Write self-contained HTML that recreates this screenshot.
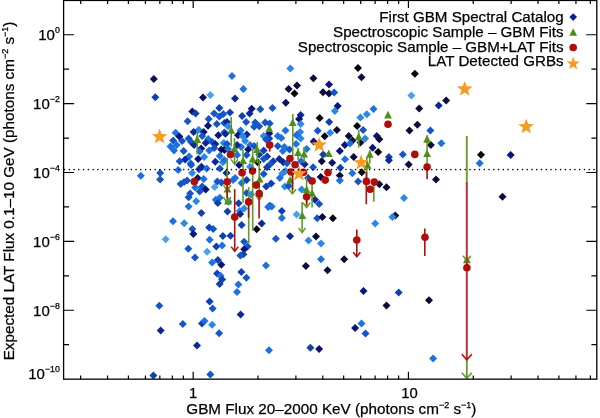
<!DOCTYPE html>
<html><head><meta charset="utf-8"><title>GBM vs LAT flux</title>
<style>html,body{margin:0;padding:0;background:#fff}svg{display:block}text{fill:#000;stroke:#000;stroke-width:0.25px}</style>
</head><body>
<svg width="600" height="418" viewBox="0 0 600 418" font-family="Liberation Sans, Arimo, Helvetica, Arial, sans-serif">
<rect width="600" height="418" fill="#fff"/>
<g>
<path d="M153.8,75.0l4.0,4.0l-4.0,4.0l-4.0,-4.0z" fill="#0a1060"/>
<path d="M155.3,93.3l4.0,4.0l-4.0,4.0l-4.0,-4.0z" fill="#1040b0"/>
<path d="M203.0,93.6l4.0,4.0l-4.0,4.0l-4.0,-4.0z" fill="#0a1060"/>
<path d="M210.4,90.9l4.0,4.0l-4.0,4.0l-4.0,-4.0z" fill="#4aa0f2"/>
<path d="M232.0,72.1l4.0,4.0l-4.0,4.0l-4.0,-4.0z" fill="#1c70e0"/>
<path d="M290.3,64.5l4.0,4.0l-4.0,4.0l-4.0,-4.0z" fill="#2a88e8"/>
<path d="M243.4,85.1l4.0,4.0l-4.0,4.0l-4.0,-4.0z" fill="#1c70e0"/>
<path d="M235.0,94.4l4.0,4.0l-4.0,4.0l-4.0,-4.0z" fill="#0a2898"/>
<path d="M313.4,74.2l4.0,4.0l-4.0,4.0l-4.0,-4.0z" fill="#0a0a3c"/>
<path d="M288.6,84.9l4.0,4.0l-4.0,4.0l-4.0,-4.0z" fill="#0a0a3c"/>
<path d="M297.0,81.6l4.0,4.0l-4.0,4.0l-4.0,-4.0z" fill="#0a0a3c"/>
<path d="M294.5,89.6l4.0,4.0l-4.0,4.0l-4.0,-4.0z" fill="#050510"/>
<path d="M285.8,98.7l4.0,4.0l-4.0,4.0l-4.0,-4.0z" fill="#0a1060"/>
<path d="M323.0,88.3l4.0,4.0l-4.0,4.0l-4.0,-4.0z" fill="#0a0a3c"/>
<path d="M329.0,80.4l4.0,4.0l-4.0,4.0l-4.0,-4.0z" fill="#0a1478"/>
<path d="M329.0,89.5l4.0,4.0l-4.0,4.0l-4.0,-4.0z" fill="#0a0a3c"/>
<path d="M251.7,104.7l4.0,4.0l-4.0,4.0l-4.0,-4.0z" fill="#0a1478"/>
<path d="M260.3,105.2l4.0,4.0l-4.0,4.0l-4.0,-4.0z" fill="#1555c8"/>
<path d="M272.5,104.0l4.0,4.0l-4.0,4.0l-4.0,-4.0z" fill="#1555c8"/>
<path d="M358.0,64.0l4.0,4.0l-4.0,4.0l-4.0,-4.0z" fill="#050510"/>
<path d="M361.5,73.2l4.0,4.0l-4.0,4.0l-4.0,-4.0z" fill="#0a0a3c"/>
<path d="M414.9,69.8l4.0,4.0l-4.0,4.0l-4.0,-4.0z" fill="#050510"/>
<path d="M411.4,91.6l4.0,4.0l-4.0,4.0l-4.0,-4.0z" fill="#4aa0f2"/>
<path d="M334.2,88.4l4.0,4.0l-4.0,4.0l-4.0,-4.0z" fill="#1555c8"/>
<path d="M337.6,102.0l4.0,4.0l-4.0,4.0l-4.0,-4.0z" fill="#0a1478"/>
<path d="M334.9,107.0l4.0,4.0l-4.0,4.0l-4.0,-4.0z" fill="#2a88e8"/>
<path d="M373.5,105.0l4.0,4.0l-4.0,4.0l-4.0,-4.0z" fill="#1c70e0"/>
<path d="M419.2,104.5l4.0,4.0l-4.0,4.0l-4.0,-4.0z" fill="#0a0a3c"/>
<path d="M446.2,96.6l4.0,4.0l-4.0,4.0l-4.0,-4.0z" fill="#0a0a3c"/>
<path d="M438.7,101.4l4.0,4.0l-4.0,4.0l-4.0,-4.0z" fill="#0a2898"/>
<path d="M140.8,171.7l4.0,4.0l-4.0,4.0l-4.0,-4.0z" fill="#1c70e0"/>
<path d="M160.2,169.1l4.0,4.0l-4.0,4.0l-4.0,-4.0z" fill="#1555c8"/>
<path d="M160.1,175.5l4.0,4.0l-4.0,4.0l-4.0,-4.0z" fill="#1555c8"/>
<path d="M192.3,107.6l4.0,4.0l-4.0,4.0l-4.0,-4.0z" fill="#0a1478"/>
<path d="M195.7,109.6l4.0,4.0l-4.0,4.0l-4.0,-4.0z" fill="#1040b0"/>
<path d="M219.3,104.1l4.0,4.0l-4.0,4.0l-4.0,-4.0z" fill="#1040b0"/>
<path d="M187.6,117.3l4.0,4.0l-4.0,4.0l-4.0,-4.0z" fill="#1555c8"/>
<path d="M208.7,115.1l4.0,4.0l-4.0,4.0l-4.0,-4.0z" fill="#1555c8"/>
<path d="M214.2,109.6l4.0,4.0l-4.0,4.0l-4.0,-4.0z" fill="#1555c8"/>
<path d="M219.3,112.6l4.0,4.0l-4.0,4.0l-4.0,-4.0z" fill="#1555c8"/>
<path d="M223.3,110.1l4.0,4.0l-4.0,4.0l-4.0,-4.0z" fill="#1555c8"/>
<path d="M216.8,120.1l4.0,4.0l-4.0,4.0l-4.0,-4.0z" fill="#1555c8"/>
<path d="M208.0,121.7l4.0,4.0l-4.0,4.0l-4.0,-4.0z" fill="#0a1478"/>
<path d="M198.7,125.7l4.0,4.0l-4.0,4.0l-4.0,-4.0z" fill="#2a88e8"/>
<path d="M193.6,128.0l4.0,4.0l-4.0,4.0l-4.0,-4.0z" fill="#0a2898"/>
<path d="M203.7,128.0l4.0,4.0l-4.0,4.0l-4.0,-4.0z" fill="#0a1478"/>
<path d="M175.6,128.8l4.0,4.0l-4.0,4.0l-4.0,-4.0z" fill="#1c70e0"/>
<path d="M179.3,132.5l4.0,4.0l-4.0,4.0l-4.0,-4.0z" fill="#0a1478"/>
<path d="M224.3,128.6l4.0,4.0l-4.0,4.0l-4.0,-4.0z" fill="#1555c8"/>
<path d="M218.3,131.3l4.0,4.0l-4.0,4.0l-4.0,-4.0z" fill="#0a1478"/>
<path d="M224.3,119.1l4.0,4.0l-4.0,4.0l-4.0,-4.0z" fill="#1555c8"/>
<path d="M173.2,136.6l4.0,4.0l-4.0,4.0l-4.0,-4.0z" fill="#1555c8"/>
<path d="M182.1,137.1l4.0,4.0l-4.0,4.0l-4.0,-4.0z" fill="#1555c8"/>
<path d="M176.6,141.1l4.0,4.0l-4.0,4.0l-4.0,-4.0z" fill="#1c70e0"/>
<path d="M170.5,142.6l4.0,4.0l-4.0,4.0l-4.0,-4.0z" fill="#1c70e0"/>
<path d="M174.0,146.6l4.0,4.0l-4.0,4.0l-4.0,-4.0z" fill="#1c70e0"/>
<path d="M183.6,147.1l4.0,4.0l-4.0,4.0l-4.0,-4.0z" fill="#1555c8"/>
<path d="M188.6,134.5l4.0,4.0l-4.0,4.0l-4.0,-4.0z" fill="#1555c8"/>
<path d="M191.1,138.1l4.0,4.0l-4.0,4.0l-4.0,-4.0z" fill="#1555c8"/>
<path d="M194.1,141.1l4.0,4.0l-4.0,4.0l-4.0,-4.0z" fill="#0a2898"/>
<path d="M202.2,132.0l4.0,4.0l-4.0,4.0l-4.0,-4.0z" fill="#1555c8"/>
<path d="M208.2,135.0l4.0,4.0l-4.0,4.0l-4.0,-4.0z" fill="#1c70e0"/>
<path d="M205.7,139.1l4.0,4.0l-4.0,4.0l-4.0,-4.0z" fill="#0a2898"/>
<path d="M201.2,144.6l4.0,4.0l-4.0,4.0l-4.0,-4.0z" fill="#0a1478"/>
<path d="M212.2,138.1l4.0,4.0l-4.0,4.0l-4.0,-4.0z" fill="#1555c8"/>
<path d="M215.3,140.1l4.0,4.0l-4.0,4.0l-4.0,-4.0z" fill="#0a2898"/>
<path d="M209.2,146.6l4.0,4.0l-4.0,4.0l-4.0,-4.0z" fill="#1c70e0"/>
<path d="M214.2,144.1l4.0,4.0l-4.0,4.0l-4.0,-4.0z" fill="#1555c8"/>
<path d="M223.8,139.1l4.0,4.0l-4.0,4.0l-4.0,-4.0z" fill="#2a88e8"/>
<path d="M221.3,145.6l4.0,4.0l-4.0,4.0l-4.0,-4.0z" fill="#0a1478"/>
<path d="M224.5,146.1l4.0,4.0l-4.0,4.0l-4.0,-4.0z" fill="#0a0a3c"/>
<path d="M219.8,152.1l4.0,4.0l-4.0,4.0l-4.0,-4.0z" fill="#1c70e0"/>
<path d="M215.3,157.7l4.0,4.0l-4.0,4.0l-4.0,-4.0z" fill="#0a2898"/>
<path d="M222.8,158.2l4.0,4.0l-4.0,4.0l-4.0,-4.0z" fill="#2a88e8"/>
<path d="M204.2,153.1l4.0,4.0l-4.0,4.0l-4.0,-4.0z" fill="#2a88e8"/>
<path d="M198.2,155.1l4.0,4.0l-4.0,4.0l-4.0,-4.0z" fill="#0a1478"/>
<path d="M189.1,152.6l4.0,4.0l-4.0,4.0l-4.0,-4.0z" fill="#1c70e0"/>
<path d="M185.1,155.6l4.0,4.0l-4.0,4.0l-4.0,-4.0z" fill="#0a2898"/>
<path d="M179.6,157.2l4.0,4.0l-4.0,4.0l-4.0,-4.0z" fill="#1555c8"/>
<path d="M190.6,159.2l4.0,4.0l-4.0,4.0l-4.0,-4.0z" fill="#1c70e0"/>
<path d="M199.7,147.6l4.0,4.0l-4.0,4.0l-4.0,-4.0z" fill="#1c70e0"/>
<path d="M199.0,165.3l4.0,4.0l-4.0,4.0l-4.0,-4.0z" fill="#1040b0"/>
<path d="M201.5,162.8l4.0,4.0l-4.0,4.0l-4.0,-4.0z" fill="#0a2898"/>
<path d="M206.7,164.5l4.0,4.0l-4.0,4.0l-4.0,-4.0z" fill="#1c70e0"/>
<path d="M178.1,166.0l4.0,4.0l-4.0,4.0l-4.0,-4.0z" fill="#1c70e0"/>
<path d="M219.8,164.6l4.0,4.0l-4.0,4.0l-4.0,-4.0z" fill="#1555c8"/>
<path d="M224.3,156.0l4.0,4.0l-4.0,4.0l-4.0,-4.0z" fill="#1c70e0"/>
<path d="M192.1,169.0l4.0,4.0l-4.0,4.0l-4.0,-4.0z" fill="#2a88e8"/>
<path d="M191.1,161.0l4.0,4.0l-4.0,4.0l-4.0,-4.0z" fill="#1555c8"/>
<path d="M180.6,180.1l4.0,4.0l-4.0,4.0l-4.0,-4.0z" fill="#1555c8"/>
<path d="M184.1,178.1l4.0,4.0l-4.0,4.0l-4.0,-4.0z" fill="#1555c8"/>
<path d="M187.1,176.6l4.0,4.0l-4.0,4.0l-4.0,-4.0z" fill="#1555c8"/>
<path d="M197.7,174.1l4.0,4.0l-4.0,4.0l-4.0,-4.0z" fill="#0a1478"/>
<path d="M203.7,175.1l4.0,4.0l-4.0,4.0l-4.0,-4.0z" fill="#1c70e0"/>
<path d="M195.2,183.6l4.0,4.0l-4.0,4.0l-4.0,-4.0z" fill="#1c70e0"/>
<path d="M202.2,182.6l4.0,4.0l-4.0,4.0l-4.0,-4.0z" fill="#1555c8"/>
<path d="M205.7,185.6l4.0,4.0l-4.0,4.0l-4.0,-4.0z" fill="#0a1478"/>
<path d="M199.7,187.6l4.0,4.0l-4.0,4.0l-4.0,-4.0z" fill="#1555c8"/>
<path d="M190.1,189.6l4.0,4.0l-4.0,4.0l-4.0,-4.0z" fill="#1555c8"/>
<path d="M188.6,193.2l4.0,4.0l-4.0,4.0l-4.0,-4.0z" fill="#1555c8"/>
<path d="M196.2,197.3l4.0,4.0l-4.0,4.0l-4.0,-4.0z" fill="#2a88e8"/>
<path d="M188.6,202.5l4.0,4.0l-4.0,4.0l-4.0,-4.0z" fill="#1c70e0"/>
<path d="M214.7,183.1l4.0,4.0l-4.0,4.0l-4.0,-4.0z" fill="#4aa0f2"/>
<path d="M217.3,177.6l4.0,4.0l-4.0,4.0l-4.0,-4.0z" fill="#1555c8"/>
<path d="M221.3,178.6l4.0,4.0l-4.0,4.0l-4.0,-4.0z" fill="#1555c8"/>
<path d="M215.8,195.7l4.0,4.0l-4.0,4.0l-4.0,-4.0z" fill="#1c70e0"/>
<path d="M219.8,193.7l4.0,4.0l-4.0,4.0l-4.0,-4.0z" fill="#1c70e0"/>
<path d="M217.8,199.1l4.0,4.0l-4.0,4.0l-4.0,-4.0z" fill="#1040b0"/>
<path d="M201.4,209.1l4.0,4.0l-4.0,4.0l-4.0,-4.0z" fill="#1040b0"/>
<path d="M173.0,217.3l4.0,4.0l-4.0,4.0l-4.0,-4.0z" fill="#1c70e0"/>
<path d="M184.2,219.3l4.0,4.0l-4.0,4.0l-4.0,-4.0z" fill="#2a88e8"/>
<path d="M192.3,225.1l4.0,4.0l-4.0,4.0l-4.0,-4.0z" fill="#1555c8"/>
<path d="M193.4,229.9l4.0,4.0l-4.0,4.0l-4.0,-4.0z" fill="#0a1478"/>
<path d="M209.2,223.6l4.0,4.0l-4.0,4.0l-4.0,-4.0z" fill="#1040b0"/>
<path d="M213.2,225.1l4.0,4.0l-4.0,4.0l-4.0,-4.0z" fill="#1555c8"/>
<path d="M222.9,232.0l4.0,4.0l-4.0,4.0l-4.0,-4.0z" fill="#1040b0"/>
<path d="M209.7,235.8l4.0,4.0l-4.0,4.0l-4.0,-4.0z" fill="#1c70e0"/>
<path d="M165.7,235.2l4.0,4.0l-4.0,4.0l-4.0,-4.0z" fill="#4aa0f2"/>
<path d="M249.6,109.6l4.0,4.0l-4.0,4.0l-4.0,-4.0z" fill="#0a2898"/>
<path d="M230.0,108.6l4.0,4.0l-4.0,4.0l-4.0,-4.0z" fill="#1040b0"/>
<path d="M242.1,112.1l4.0,4.0l-4.0,4.0l-4.0,-4.0z" fill="#1040b0"/>
<path d="M246.1,118.1l4.0,4.0l-4.0,4.0l-4.0,-4.0z" fill="#1555c8"/>
<path d="M255.2,118.6l4.0,4.0l-4.0,4.0l-4.0,-4.0z" fill="#1555c8"/>
<path d="M259.2,122.2l4.0,4.0l-4.0,4.0l-4.0,-4.0z" fill="#1555c8"/>
<path d="M254.1,122.7l4.0,4.0l-4.0,4.0l-4.0,-4.0z" fill="#1555c8"/>
<path d="M265.2,118.6l4.0,4.0l-4.0,4.0l-4.0,-4.0z" fill="#1555c8"/>
<path d="M269.7,119.6l4.0,4.0l-4.0,4.0l-4.0,-4.0z" fill="#1555c8"/>
<path d="M269.2,129.5l4.0,4.0l-4.0,4.0l-4.0,-4.0z" fill="#0a1478"/>
<path d="M227.0,118.1l4.0,4.0l-4.0,4.0l-4.0,-4.0z" fill="#0a2898"/>
<path d="M228.0,122.2l4.0,4.0l-4.0,4.0l-4.0,-4.0z" fill="#2a88e8"/>
<path d="M240.6,126.6l4.0,4.0l-4.0,4.0l-4.0,-4.0z" fill="#1c70e0"/>
<path d="M238.0,131.3l4.0,4.0l-4.0,4.0l-4.0,-4.0z" fill="#0a1478"/>
<path d="M246.8,130.6l4.0,4.0l-4.0,4.0l-4.0,-4.0z" fill="#0a2898"/>
<path d="M242.6,132.0l4.0,4.0l-4.0,4.0l-4.0,-4.0z" fill="#2a88e8"/>
<path d="M263.7,132.0l4.0,4.0l-4.0,4.0l-4.0,-4.0z" fill="#2a88e8"/>
<path d="M225.5,129.7l4.0,4.0l-4.0,4.0l-4.0,-4.0z" fill="#0a2898"/>
<path d="M245.1,137.0l4.0,4.0l-4.0,4.0l-4.0,-4.0z" fill="#2a88e8"/>
<path d="M250.1,141.1l4.0,4.0l-4.0,4.0l-4.0,-4.0z" fill="#1c70e0"/>
<path d="M254.1,142.1l4.0,4.0l-4.0,4.0l-4.0,-4.0z" fill="#1555c8"/>
<path d="M241.1,143.1l4.0,4.0l-4.0,4.0l-4.0,-4.0z" fill="#1c70e0"/>
<path d="M248.1,145.6l4.0,4.0l-4.0,4.0l-4.0,-4.0z" fill="#0a1478"/>
<path d="M246.6,151.1l4.0,4.0l-4.0,4.0l-4.0,-4.0z" fill="#1555c8"/>
<path d="M227.0,140.1l4.0,4.0l-4.0,4.0l-4.0,-4.0z" fill="#1555c8"/>
<path d="M228.0,145.0l4.0,4.0l-4.0,4.0l-4.0,-4.0z" fill="#1c70e0"/>
<path d="M237.1,141.0l4.0,4.0l-4.0,4.0l-4.0,-4.0z" fill="#0a2898"/>
<path d="M237.1,151.1l4.0,4.0l-4.0,4.0l-4.0,-4.0z" fill="#1c70e0"/>
<path d="M239.1,161.0l4.0,4.0l-4.0,4.0l-4.0,-4.0z" fill="#0a1478"/>
<path d="M250.1,162.8l4.0,4.0l-4.0,4.0l-4.0,-4.0z" fill="#2a88e8"/>
<path d="M269.2,134.5l4.0,4.0l-4.0,4.0l-4.0,-4.0z" fill="#1040b0"/>
<path d="M266.2,135.5l4.0,4.0l-4.0,4.0l-4.0,-4.0z" fill="#1555c8"/>
<path d="M263.7,146.6l4.0,4.0l-4.0,4.0l-4.0,-4.0z" fill="#1040b0"/>
<path d="M267.2,152.6l4.0,4.0l-4.0,4.0l-4.0,-4.0z" fill="#1040b0"/>
<path d="M263.7,155.1l4.0,4.0l-4.0,4.0l-4.0,-4.0z" fill="#1555c8"/>
<path d="M259.2,150.6l4.0,4.0l-4.0,4.0l-4.0,-4.0z" fill="#1040b0"/>
<path d="M277.8,132.0l4.0,4.0l-4.0,4.0l-4.0,-4.0z" fill="#1c70e0"/>
<path d="M281.3,134.0l4.0,4.0l-4.0,4.0l-4.0,-4.0z" fill="#1c70e0"/>
<path d="M277.8,142.1l4.0,4.0l-4.0,4.0l-4.0,-4.0z" fill="#1555c8"/>
<path d="M282.8,147.1l4.0,4.0l-4.0,4.0l-4.0,-4.0z" fill="#1c70e0"/>
<path d="M279.3,155.1l4.0,4.0l-4.0,4.0l-4.0,-4.0z" fill="#0a2898"/>
<path d="M283.3,158.2l4.0,4.0l-4.0,4.0l-4.0,-4.0z" fill="#0a2898"/>
<path d="M273.2,157.2l4.0,4.0l-4.0,4.0l-4.0,-4.0z" fill="#1040b0"/>
<path d="M270.2,160.2l4.0,4.0l-4.0,4.0l-4.0,-4.0z" fill="#1555c8"/>
<path d="M267.0,163.2l4.0,4.0l-4.0,4.0l-4.0,-4.0z" fill="#1040b0"/>
<path d="M257.7,158.2l4.0,4.0l-4.0,4.0l-4.0,-4.0z" fill="#050510"/>
<path d="M284.3,143.0l4.0,4.0l-4.0,4.0l-4.0,-4.0z" fill="#1c70e0"/>
<path d="M263.7,170.0l4.0,4.0l-4.0,4.0l-4.0,-4.0z" fill="#1555c8"/>
<path d="M235.1,174.1l4.0,4.0l-4.0,4.0l-4.0,-4.0z" fill="#1c70e0"/>
<path d="M233.0,176.0l4.0,4.0l-4.0,4.0l-4.0,-4.0z" fill="#1c70e0"/>
<path d="M246.6,176.1l4.0,4.0l-4.0,4.0l-4.0,-4.0z" fill="#1040b0"/>
<path d="M241.6,179.1l4.0,4.0l-4.0,4.0l-4.0,-4.0z" fill="#1c70e0"/>
<path d="M271.2,179.6l4.0,4.0l-4.0,4.0l-4.0,-4.0z" fill="#1040b0"/>
<path d="M266.2,182.6l4.0,4.0l-4.0,4.0l-4.0,-4.0z" fill="#1040b0"/>
<path d="M246.6,189.1l4.0,4.0l-4.0,4.0l-4.0,-4.0z" fill="#1555c8"/>
<path d="M251.1,190.6l4.0,4.0l-4.0,4.0l-4.0,-4.0z" fill="#2a88e8"/>
<path d="M238.6,199.3l4.0,4.0l-4.0,4.0l-4.0,-4.0z" fill="#1040b0"/>
<path d="M269.7,201.7l4.0,4.0l-4.0,4.0l-4.0,-4.0z" fill="#1555c8"/>
<path d="M282.3,169.5l4.0,4.0l-4.0,4.0l-4.0,-4.0z" fill="#2a88e8"/>
<path d="M279.8,174.1l4.0,4.0l-4.0,4.0l-4.0,-4.0z" fill="#1c70e0"/>
<path d="M226.5,169.0l4.0,4.0l-4.0,4.0l-4.0,-4.0z" fill="#0a2898"/>
<path d="M228.5,197.7l4.0,4.0l-4.0,4.0l-4.0,-4.0z" fill="#2a88e8"/>
<path d="M284.8,182.6l4.0,4.0l-4.0,4.0l-4.0,-4.0z" fill="#2a88e8"/>
<path d="M227.5,207.6l4.0,4.0l-4.0,4.0l-4.0,-4.0z" fill="#1040b0"/>
<path d="M239.6,207.1l4.0,4.0l-4.0,4.0l-4.0,-4.0z" fill="#2a88e8"/>
<path d="M244.1,204.5l4.0,4.0l-4.0,4.0l-4.0,-4.0z" fill="#2a88e8"/>
<path d="M240.1,210.1l4.0,4.0l-4.0,4.0l-4.0,-4.0z" fill="#0a2898"/>
<path d="M268.2,203.0l4.0,4.0l-4.0,4.0l-4.0,-4.0z" fill="#1c70e0"/>
<path d="M271.7,202.5l4.0,4.0l-4.0,4.0l-4.0,-4.0z" fill="#1c70e0"/>
<path d="M281.8,207.1l4.0,4.0l-4.0,4.0l-4.0,-4.0z" fill="#1040b0"/>
<path d="M281.8,214.1l4.0,4.0l-4.0,4.0l-4.0,-4.0z" fill="#1c70e0"/>
<path d="M261.7,219.6l4.0,4.0l-4.0,4.0l-4.0,-4.0z" fill="#0a2898"/>
<path d="M256.7,225.3l4.0,4.0l-4.0,4.0l-4.0,-4.0z" fill="#050510"/>
<path d="M241.6,220.9l4.0,4.0l-4.0,4.0l-4.0,-4.0z" fill="#1040b0"/>
<path d="M230.5,231.7l4.0,4.0l-4.0,4.0l-4.0,-4.0z" fill="#1040b0"/>
<path d="M275.9,234.7l4.0,4.0l-4.0,4.0l-4.0,-4.0z" fill="#1555c8"/>
<path d="M244.1,237.8l4.0,4.0l-4.0,4.0l-4.0,-4.0z" fill="#1555c8"/>
<path d="M285.5,126.5l4.0,4.0l-4.0,4.0l-4.0,-4.0z" fill="#1c70e0"/>
<path d="M300.6,111.1l4.0,4.0l-4.0,4.0l-4.0,-4.0z" fill="#0a2898"/>
<path d="M299.1,115.1l4.0,4.0l-4.0,4.0l-4.0,-4.0z" fill="#0a1478"/>
<path d="M300.6,120.1l4.0,4.0l-4.0,4.0l-4.0,-4.0z" fill="#2a88e8"/>
<path d="M300.1,128.1l4.0,4.0l-4.0,4.0l-4.0,-4.0z" fill="#2a88e8"/>
<path d="M296.6,130.9l4.0,4.0l-4.0,4.0l-4.0,-4.0z" fill="#1555c8"/>
<path d="M319.7,113.9l4.0,4.0l-4.0,4.0l-4.0,-4.0z" fill="#050510"/>
<path d="M329.2,117.9l4.0,4.0l-4.0,4.0l-4.0,-4.0z" fill="#1040b0"/>
<path d="M317.7,126.7l4.0,4.0l-4.0,4.0l-4.0,-4.0z" fill="#1555c8"/>
<path d="M336.9,126.0l4.0,4.0l-4.0,4.0l-4.0,-4.0z" fill="#0a0a3c"/>
<path d="M330.2,128.8l4.0,4.0l-4.0,4.0l-4.0,-4.0z" fill="#2a88e8"/>
<path d="M324.7,132.3l4.0,4.0l-4.0,4.0l-4.0,-4.0z" fill="#050510"/>
<path d="M313.6,137.6l4.0,4.0l-4.0,4.0l-4.0,-4.0z" fill="#0a1478"/>
<path d="M297.1,131.5l4.0,4.0l-4.0,4.0l-4.0,-4.0z" fill="#1c70e0"/>
<path d="M300.6,134.5l4.0,4.0l-4.0,4.0l-4.0,-4.0z" fill="#2a88e8"/>
<path d="M296.1,140.1l4.0,4.0l-4.0,4.0l-4.0,-4.0z" fill="#1c70e0"/>
<path d="M289.5,145.6l4.0,4.0l-4.0,4.0l-4.0,-4.0z" fill="#1555c8"/>
<path d="M306.6,145.1l4.0,4.0l-4.0,4.0l-4.0,-4.0z" fill="#1c70e0"/>
<path d="M339.8,147.1l4.0,4.0l-4.0,4.0l-4.0,-4.0z" fill="#0a1478"/>
<path d="M344.8,141.1l4.0,4.0l-4.0,4.0l-4.0,-4.0z" fill="#0a1478"/>
<path d="M323.2,150.6l4.0,4.0l-4.0,4.0l-4.0,-4.0z" fill="#1040b0"/>
<path d="M321.7,157.2l4.0,4.0l-4.0,4.0l-4.0,-4.0z" fill="#0a0a3c"/>
<path d="M332.2,158.7l4.0,4.0l-4.0,4.0l-4.0,-4.0z" fill="#0a1478"/>
<path d="M313.1,163.3l4.0,4.0l-4.0,4.0l-4.0,-4.0z" fill="#1555c8"/>
<path d="M340.3,163.8l4.0,4.0l-4.0,4.0l-4.0,-4.0z" fill="#1040b0"/>
<path d="M345.0,155.2l4.0,4.0l-4.0,4.0l-4.0,-4.0z" fill="#1c70e0"/>
<path d="M287.0,159.2l4.0,4.0l-4.0,4.0l-4.0,-4.0z" fill="#1555c8"/>
<path d="M301.1,157.2l4.0,4.0l-4.0,4.0l-4.0,-4.0z" fill="#1c70e0"/>
<path d="M304.6,160.2l4.0,4.0l-4.0,4.0l-4.0,-4.0z" fill="#0a2898"/>
<path d="M320.7,173.1l4.0,4.0l-4.0,4.0l-4.0,-4.0z" fill="#0a0a3c"/>
<path d="M339.8,171.6l4.0,4.0l-4.0,4.0l-4.0,-4.0z" fill="#0a0a3c"/>
<path d="M339.8,176.6l4.0,4.0l-4.0,4.0l-4.0,-4.0z" fill="#1c70e0"/>
<path d="M288.5,182.1l4.0,4.0l-4.0,4.0l-4.0,-4.0z" fill="#1555c8"/>
<path d="M301.6,185.6l4.0,4.0l-4.0,4.0l-4.0,-4.0z" fill="#2a88e8"/>
<path d="M315.0,195.8l4.0,4.0l-4.0,4.0l-4.0,-4.0z" fill="#0a2898"/>
<path d="M319.2,199.9l4.0,4.0l-4.0,4.0l-4.0,-4.0z" fill="#1555c8"/>
<path d="M285.5,167.0l4.0,4.0l-4.0,4.0l-4.0,-4.0z" fill="#2a88e8"/>
<path d="M308.1,174.1l4.0,4.0l-4.0,4.0l-4.0,-4.0z" fill="#1040b0"/>
<path d="M296.6,210.6l4.0,4.0l-4.0,4.0l-4.0,-4.0z" fill="#4aa0f2"/>
<path d="M317.2,214.3l4.0,4.0l-4.0,4.0l-4.0,-4.0z" fill="#1555c8"/>
<path d="M322.4,213.1l4.0,4.0l-4.0,4.0l-4.0,-4.0z" fill="#0a0a3c"/>
<path d="M332.9,214.3l4.0,4.0l-4.0,4.0l-4.0,-4.0z" fill="#050510"/>
<path d="M290.0,232.2l4.0,4.0l-4.0,4.0l-4.0,-4.0z" fill="#0a2898"/>
<path d="M316.0,232.5l4.0,4.0l-4.0,4.0l-4.0,-4.0z" fill="#0a0a3c"/>
<path d="M308.5,236.5l4.0,4.0l-4.0,4.0l-4.0,-4.0z" fill="#2a88e8"/>
<path d="M321.0,239.5l4.0,4.0l-4.0,4.0l-4.0,-4.0z" fill="#2a88e8"/>
<path d="M366.8,110.2l4.0,4.0l-4.0,4.0l-4.0,-4.0z" fill="#2a88e8"/>
<path d="M360.4,113.6l4.0,4.0l-4.0,4.0l-4.0,-4.0z" fill="#2a88e8"/>
<path d="M357.1,121.9l4.0,4.0l-4.0,4.0l-4.0,-4.0z" fill="#050510"/>
<path d="M363.1,126.1l4.0,4.0l-4.0,4.0l-4.0,-4.0z" fill="#1555c8"/>
<path d="M365.1,134.5l4.0,4.0l-4.0,4.0l-4.0,-4.0z" fill="#2a88e8"/>
<path d="M348.7,132.0l4.0,4.0l-4.0,4.0l-4.0,-4.0z" fill="#0a0a3c"/>
<path d="M352.5,136.5l4.0,4.0l-4.0,4.0l-4.0,-4.0z" fill="#0a0a3c"/>
<path d="M360.5,138.5l4.0,4.0l-4.0,4.0l-4.0,-4.0z" fill="#0a0a3c"/>
<path d="M350.0,139.5l4.0,4.0l-4.0,4.0l-4.0,-4.0z" fill="#1c70e0"/>
<path d="M376.8,132.0l4.0,4.0l-4.0,4.0l-4.0,-4.0z" fill="#0a1478"/>
<path d="M379.3,135.3l4.0,4.0l-4.0,4.0l-4.0,-4.0z" fill="#0a0a3c"/>
<path d="M372.6,143.7l4.0,4.0l-4.0,4.0l-4.0,-4.0z" fill="#0a1478"/>
<path d="M378.2,147.9l4.0,4.0l-4.0,4.0l-4.0,-4.0z" fill="#050510"/>
<path d="M353.7,152.9l4.0,4.0l-4.0,4.0l-4.0,-4.0z" fill="#0a0a3c"/>
<path d="M361.8,168.2l4.0,4.0l-4.0,4.0l-4.0,-4.0z" fill="#050510"/>
<path d="M352.3,169.2l4.0,4.0l-4.0,4.0l-4.0,-4.0z" fill="#1c70e0"/>
<path d="M388.9,152.9l4.0,4.0l-4.0,4.0l-4.0,-4.0z" fill="#1040b0"/>
<path d="M388.9,156.3l4.0,4.0l-4.0,4.0l-4.0,-4.0z" fill="#0a2898"/>
<path d="M402.8,150.4l4.0,4.0l-4.0,4.0l-4.0,-4.0z" fill="#1555c8"/>
<path d="M408.7,160.5l4.0,4.0l-4.0,4.0l-4.0,-4.0z" fill="#0a0a3c"/>
<path d="M409.5,126.5l4.0,4.0l-4.0,4.0l-4.0,-4.0z" fill="#0a0a3c"/>
<path d="M417.4,120.8l4.0,4.0l-4.0,4.0l-4.0,-4.0z" fill="#0a0a3c"/>
<path d="M430.4,126.5l4.0,4.0l-4.0,4.0l-4.0,-4.0z" fill="#1555c8"/>
<path d="M430.8,140.9l4.0,4.0l-4.0,4.0l-4.0,-4.0z" fill="#0a0a3c"/>
<path d="M441.3,139.2l4.0,4.0l-4.0,4.0l-4.0,-4.0z" fill="#1c70e0"/>
<path d="M358.1,177.4l4.0,4.0l-4.0,4.0l-4.0,-4.0z" fill="#1555c8"/>
<path d="M379.3,180.2l4.0,4.0l-4.0,4.0l-4.0,-4.0z" fill="#0a0a3c"/>
<path d="M386.5,183.3l4.0,4.0l-4.0,4.0l-4.0,-4.0z" fill="#0a0a3c"/>
<path d="M404.0,194.1l4.0,4.0l-4.0,4.0l-4.0,-4.0z" fill="#2a88e8"/>
<path d="M395.3,211.6l4.0,4.0l-4.0,4.0l-4.0,-4.0z" fill="#0a0a3c"/>
<path d="M392.4,212.9l4.0,4.0l-4.0,4.0l-4.0,-4.0z" fill="#2a88e8"/>
<path d="M375.2,219.6l4.0,4.0l-4.0,4.0l-4.0,-4.0z" fill="#2a88e8"/>
<path d="M436.0,175.5l4.0,4.0l-4.0,4.0l-4.0,-4.0z" fill="#0a0a3c"/>
<path d="M481.0,150.7l4.0,4.0l-4.0,4.0l-4.0,-4.0z" fill="#050510"/>
<path d="M479.7,159.3l4.0,4.0l-4.0,4.0l-4.0,-4.0z" fill="#1c70e0"/>
<path d="M510.7,150.9l4.0,4.0l-4.0,4.0l-4.0,-4.0z" fill="#0a1478"/>
<path d="M502.5,192.8l4.0,4.0l-4.0,4.0l-4.0,-4.0z" fill="#0a0a3c"/>
<path d="M188.3,244.7l4.0,4.0l-4.0,4.0l-4.0,-4.0z" fill="#1555c8"/>
<path d="M207.1,247.8l4.0,4.0l-4.0,4.0l-4.0,-4.0z" fill="#4aa0f2"/>
<path d="M216.3,242.4l4.0,4.0l-4.0,4.0l-4.0,-4.0z" fill="#1040b0"/>
<path d="M222.1,241.4l4.0,4.0l-4.0,4.0l-4.0,-4.0z" fill="#1c70e0"/>
<path d="M195.0,253.6l4.0,4.0l-4.0,4.0l-4.0,-4.0z" fill="#1555c8"/>
<path d="M212.1,258.6l4.0,4.0l-4.0,4.0l-4.0,-4.0z" fill="#1c70e0"/>
<path d="M217.9,256.1l4.0,4.0l-4.0,4.0l-4.0,-4.0z" fill="#1040b0"/>
<path d="M221.3,260.8l4.0,4.0l-4.0,4.0l-4.0,-4.0z" fill="#0a1478"/>
<path d="M217.1,269.5l4.0,4.0l-4.0,4.0l-4.0,-4.0z" fill="#1040b0"/>
<path d="M220.5,271.8l4.0,4.0l-4.0,4.0l-4.0,-4.0z" fill="#1c70e0"/>
<path d="M222.1,275.4l4.0,4.0l-4.0,4.0l-4.0,-4.0z" fill="#1040b0"/>
<path d="M219.6,280.0l4.0,4.0l-4.0,4.0l-4.0,-4.0z" fill="#1040b0"/>
<path d="M209.6,297.4l4.0,4.0l-4.0,4.0l-4.0,-4.0z" fill="#1040b0"/>
<path d="M159.3,301.8l4.0,4.0l-4.0,4.0l-4.0,-4.0z" fill="#1555c8"/>
<path d="M160.7,326.5l4.0,4.0l-4.0,4.0l-4.0,-4.0z" fill="#0a2898"/>
<path d="M182.8,320.0l4.0,4.0l-4.0,4.0l-4.0,-4.0z" fill="#1555c8"/>
<path d="M212.6,304.4l4.0,4.0l-4.0,4.0l-4.0,-4.0z" fill="#1555c8"/>
<path d="M202.0,319.5l4.0,4.0l-4.0,4.0l-4.0,-4.0z" fill="#1040b0"/>
<path d="M204.5,316.9l4.0,4.0l-4.0,4.0l-4.0,-4.0z" fill="#1c70e0"/>
<path d="M212.1,320.8l4.0,4.0l-4.0,4.0l-4.0,-4.0z" fill="#2a88e8"/>
<path d="M219.1,329.2l4.0,4.0l-4.0,4.0l-4.0,-4.0z" fill="#1555c8"/>
<path d="M197.0,341.6l4.0,4.0l-4.0,4.0l-4.0,-4.0z" fill="#0a2898"/>
<path d="M153.4,371.6l4.0,4.0l-4.0,4.0l-4.0,-4.0z" fill="#1040b0"/>
<path d="M210.3,370.5l4.0,4.0l-4.0,4.0l-4.0,-4.0z" fill="#1555c8"/>
<path d="M247.6,242.4l4.0,4.0l-4.0,4.0l-4.0,-4.0z" fill="#1555c8"/>
<path d="M244.2,245.2l4.0,4.0l-4.0,4.0l-4.0,-4.0z" fill="#0a1478"/>
<path d="M243.4,250.3l4.0,4.0l-4.0,4.0l-4.0,-4.0z" fill="#1040b0"/>
<path d="M240.4,251.4l4.0,4.0l-4.0,4.0l-4.0,-4.0z" fill="#1555c8"/>
<path d="M266.0,261.5l4.0,4.0l-4.0,4.0l-4.0,-4.0z" fill="#1c70e0"/>
<path d="M241.4,267.9l4.0,4.0l-4.0,4.0l-4.0,-4.0z" fill="#1040b0"/>
<path d="M246.4,273.7l4.0,4.0l-4.0,4.0l-4.0,-4.0z" fill="#1555c8"/>
<path d="M238.4,280.4l4.0,4.0l-4.0,4.0l-4.0,-4.0z" fill="#1c70e0"/>
<path d="M237.0,288.0l4.0,4.0l-4.0,4.0l-4.0,-4.0z" fill="#1c70e0"/>
<path d="M305.9,262.0l4.0,4.0l-4.0,4.0l-4.0,-4.0z" fill="#0a0a3c"/>
<path d="M321.0,255.3l4.0,4.0l-4.0,4.0l-4.0,-4.0z" fill="#1c70e0"/>
<path d="M327.5,266.2l4.0,4.0l-4.0,4.0l-4.0,-4.0z" fill="#0a0a3c"/>
<path d="M240.6,310.6l4.0,4.0l-4.0,4.0l-4.0,-4.0z" fill="#0a2898"/>
<path d="M269.0,346.3l4.0,4.0l-4.0,4.0l-4.0,-4.0z" fill="#1c70e0"/>
<path d="M310.4,343.7l4.0,4.0l-4.0,4.0l-4.0,-4.0z" fill="#1040b0"/>
<path d="M319.1,345.1l4.0,4.0l-4.0,4.0l-4.0,-4.0z" fill="#0a1478"/>
<path d="M344.2,255.3l4.0,4.0l-4.0,4.0l-4.0,-4.0z" fill="#0a0a3c"/>
<path d="M363.5,287.1l4.0,4.0l-4.0,4.0l-4.0,-4.0z" fill="#0a1478"/>
<path d="M398.7,288.5l4.0,4.0l-4.0,4.0l-4.0,-4.0z" fill="#1040b0"/>
<path d="M386.5,301.5l4.0,4.0l-4.0,4.0l-4.0,-4.0z" fill="#0a0a3c"/>
<path d="M429.0,296.2l4.0,4.0l-4.0,4.0l-4.0,-4.0z" fill="#0a0a3c"/>
<path d="M355.1,324.0l4.0,4.0l-4.0,4.0l-4.0,-4.0z" fill="#0a1478"/>
<path d="M361.5,319.5l4.0,4.0l-4.0,4.0l-4.0,-4.0z" fill="#1c70e0"/>
<path d="M365.5,329.5l4.0,4.0l-4.0,4.0l-4.0,-4.0z" fill="#1555c8"/>
<path d="M433.1,354.4l4.0,4.0l-4.0,4.0l-4.0,-4.0z" fill="#1c70e0"/>
<path d="M197.2,131V154" stroke="#5f9c26" stroke-width="1.6"/>
<path d="M231.2,117.1V146.6" stroke="#5f9c26" stroke-width="1.6"/>
<path d="M234.5,138V164" stroke="#5f9c26" stroke-width="1.6"/>
<path d="M230.9,159.4L234.5,164.0L238.1,159.4" fill="none" stroke="#5f9c26" stroke-width="1.5"/>
<path d="M243.0,150V202.5" stroke="#5f9c26" stroke-width="1.6"/>
<path d="M252.7,149V230.7" stroke="#5f9c26" stroke-width="1.6"/>
<path d="M257.2,142V163" stroke="#5f9c26" stroke-width="1.6"/>
<path d="M259.2,160V200" stroke="#5f9c26" stroke-width="1.6"/>
<path d="M255.6,195.4L259.2,200.0L262.8,195.4" fill="none" stroke="#5f9c26" stroke-width="1.5"/>
<path d="M227.2,158V203" stroke="#5f9c26" stroke-width="1.6"/>
<path d="M248.7,187V243.4" stroke="#5f9c26" stroke-width="1.6"/>
<path d="M292.8,114.1V156" stroke="#5f9c26" stroke-width="1.6"/>
<path d="M304.1,147V163" stroke="#5f9c26" stroke-width="1.6"/>
<path d="M298.1,148V160" stroke="#5f9c26" stroke-width="1.6"/>
<path d="M292.4,172V193.8" stroke="#5f9c26" stroke-width="1.6"/>
<path d="M288.8,189.2L292.4,193.8L296.0,189.2" fill="none" stroke="#5f9c26" stroke-width="1.5"/>
<path d="M306.6,177V207.5" stroke="#5f9c26" stroke-width="1.6"/>
<path d="M303.0,202.9L306.6,207.5L310.2,202.9" fill="none" stroke="#5f9c26" stroke-width="1.5"/>
<path d="M312.1,185V207.5" stroke="#5f9c26" stroke-width="1.6"/>
<path d="M302.1,202V232.5" stroke="#5f9c26" stroke-width="1.6"/>
<path d="M298.5,227.9L302.1,232.5L305.7,227.9" fill="none" stroke="#5f9c26" stroke-width="1.5"/>
<path d="M358.7,130.1V147.7" stroke="#5f9c26" stroke-width="1.6"/>
<path d="M369.8,150.2V163.6" stroke="#5f9c26" stroke-width="1.6"/>
<path d="M366.8,157V181" stroke="#5f9c26" stroke-width="1.6"/>
<path d="M427.1,135.2V167" stroke="#5f9c26" stroke-width="1.6"/>
<path d="M373.8,185V201.8" stroke="#5f9c26" stroke-width="1.6"/>
<path d="M193.3,142.9L197.2,135.3L201.1,142.9z" fill="#4f8f18"/>
<path d="M227.3,133.7L231.2,126.1L235.1,133.7z" fill="#4f8f18"/>
<path d="M230.6,152.0L234.5,144.4L238.4,152.0z" fill="#4f8f18"/>
<path d="M239.2,164.1L243.1,156.5L247.0,164.1z" fill="#4f8f18"/>
<path d="M248.7,162.5L252.6,154.9L256.5,162.5z" fill="#4f8f18"/>
<path d="M253.3,153.0L257.2,145.4L261.1,153.0z" fill="#4f8f18"/>
<path d="M255.8,182.5L259.7,174.9L263.6,182.5z" fill="#4f8f18"/>
<path d="M223.6,192.5L227.5,184.9L231.4,192.5z" fill="#4f8f18"/>
<path d="M224.1,204.6L228.0,197.0L231.9,204.6z" fill="#4f8f18"/>
<path d="M265.3,132.1L269.2,124.5L273.1,132.1z" fill="#4f8f18"/>
<path d="M288.8,126.0L292.7,118.4L296.6,126.0z" fill="#4f8f18"/>
<path d="M294.2,156.0L298.1,148.4L302.0,156.0z" fill="#4f8f18"/>
<path d="M300.2,157.5L304.1,149.9L308.0,157.5z" fill="#4f8f18"/>
<path d="M324.8,157.0L328.7,149.4L332.6,157.0z" fill="#4f8f18"/>
<path d="M286.1,183.5L290.0,175.9L293.9,183.5z" fill="#4f8f18"/>
<path d="M302.7,193.0L306.6,185.4L310.5,193.0z" fill="#4f8f18"/>
<path d="M308.2,196.5L312.1,188.9L316.0,196.5z" fill="#4f8f18"/>
<path d="M298.4,219.0L302.3,211.4L306.2,219.0z" fill="#4f8f18"/>
<path d="M384.1,118.4L388.0,110.8L391.9,118.4z" fill="#4f8f18"/>
<path d="M354.8,140.2L358.7,132.6L362.6,140.2z" fill="#4f8f18"/>
<path d="M365.9,157.8L369.8,150.2L373.7,157.8z" fill="#4f8f18"/>
<path d="M363.7,168.7L367.6,161.1L371.5,168.7z" fill="#4f8f18"/>
<path d="M423.2,142.7L427.1,135.1L431.0,142.7z" fill="#4f8f18"/>
<path d="M423.2,157.0L427.1,149.4L431.0,157.0z" fill="#4f8f18"/>
<path d="M463.0,263.2L466.9,255.6L470.8,263.2z" fill="#4f8f18"/>
<path d="M223.4,185.1L227.2,190.6L231.0,185.1" fill="none" stroke="#5f9c26" stroke-width="1.6"/>
<path d="M223.4,197.2L227.2,202.7L231.0,197.2" fill="none" stroke="#5f9c26" stroke-width="1.6"/>
<path d="M463.1,255.8L466.9,261.3L470.7,255.8" fill="none" stroke="#5f9c26" stroke-width="1.6"/>
<path d="M466.8,136V181.7" stroke="#6fa32e" stroke-width="2"/>
<path d="M466.8,359V377.5" stroke="#5f9c26" stroke-width="1.8"/>
<path d="M461.8,372.8L466.8,378.3L471.8,372.8" fill="none" stroke="#5f9c26" stroke-width="1.6"/>
<path d="M466.8,181.7V359" stroke="#b83232" stroke-width="2"/>
<path d="M461.8,354.3L466.8,359.8L471.8,354.3" fill="none" stroke="#b00d0d" stroke-width="1.6"/>
<path d="M269.7,145V151.6" stroke="#b00d0d" stroke-width="1.6"/>
<path d="M227.2,182V198" stroke="#b00d0d" stroke-width="1.6"/>
<path d="M234.7,189.1V251.2" stroke="#b00d0d" stroke-width="1.6"/>
<path d="M231.1,246.6L234.7,251.2L238.3,246.6" fill="none" stroke="#b00d0d" stroke-width="1.5"/>
<path d="M259.1,193V218.6" stroke="#b00d0d" stroke-width="1.6"/>
<path d="M248.6,202V217.6" stroke="#b00d0d" stroke-width="1.6"/>
<path d="M292.6,172V190" stroke="#b00d0d" stroke-width="1.6"/>
<path d="M306.6,196.7V205" stroke="#b00d0d" stroke-width="1.6"/>
<path d="M366.3,172V204.3" stroke="#b00d0d" stroke-width="1.6"/>
<path d="M427.1,167V179.2" stroke="#b00d0d" stroke-width="1.6"/>
<path d="M356.8,229.5V256.8" stroke="#b00d0d" stroke-width="1.6"/>
<path d="M353.2,252.2L356.8,256.8L360.4,252.2" fill="none" stroke="#b00d0d" stroke-width="1.5"/>
<path d="M424.8,228.6V255.9" stroke="#b00d0d" stroke-width="1.6"/>
<circle cx="194.3" cy="181.6" r="3.8" fill="#b00d0d"/>
<circle cx="230.5" cy="154.6" r="3.8" fill="#b00d0d"/>
<circle cx="269.7" cy="145.1" r="3.8" fill="#b00d0d"/>
<circle cx="242.1" cy="172.8" r="3.8" fill="#b00d0d"/>
<circle cx="252.6" cy="171" r="3.8" fill="#b00d0d"/>
<circle cx="227.2" cy="181.8" r="3.8" fill="#b00d0d"/>
<circle cx="256.2" cy="185.1" r="3.8" fill="#b00d0d"/>
<circle cx="259.2" cy="193.6" r="3.8" fill="#b00d0d"/>
<circle cx="248.6" cy="201.9" r="3.8" fill="#b00d0d"/>
<circle cx="234.7" cy="217.1" r="3.8" fill="#b00d0d"/>
<circle cx="290" cy="158.6" r="3.8" fill="#b00d0d"/>
<circle cx="295.1" cy="164.7" r="3.8" fill="#b00d0d"/>
<circle cx="303.5" cy="172.2" r="3.8" fill="#b00d0d"/>
<circle cx="328" cy="172.6" r="3.8" fill="#b00d0d"/>
<circle cx="291" cy="172" r="3.8" fill="#b00d0d"/>
<circle cx="312.1" cy="181.1" r="3.8" fill="#b00d0d"/>
<circle cx="325.2" cy="180.1" r="3.8" fill="#b00d0d"/>
<circle cx="306.6" cy="196.7" r="3.8" fill="#b00d0d"/>
<circle cx="388" cy="124.3" r="3.8" fill="#b00d0d"/>
<circle cx="414.8" cy="154.4" r="3.8" fill="#b00d0d"/>
<circle cx="427.1" cy="167" r="3.8" fill="#b00d0d"/>
<circle cx="366.4" cy="181.4" r="3.8" fill="#b00d0d"/>
<circle cx="374.3" cy="182.1" r="3.8" fill="#b00d0d"/>
<circle cx="370.1" cy="189.3" r="3.8" fill="#b00d0d"/>
<circle cx="356.8" cy="240" r="3.8" fill="#b00d0d"/>
<circle cx="425" cy="237.2" r="3.8" fill="#b00d0d"/>
<circle cx="466.9" cy="267.7" r="3.8" fill="#b00d0d"/>
<path d="M464.70,80.90L466.70,86.35L472.50,86.57L467.93,90.15L469.52,95.73L464.70,92.50L459.88,95.73L461.47,90.15L456.90,86.57L462.70,86.35Z" fill="#f59a23"/>
<path d="M159.60,128.60L161.60,134.05L167.40,134.27L162.83,137.85L164.42,143.43L159.60,140.20L154.78,143.43L156.37,137.85L151.80,134.27L157.60,134.05Z" fill="#f59a23"/>
<path d="M319.20,136.90L321.20,142.35L327.00,142.57L322.43,146.15L324.02,151.73L319.20,148.50L314.38,151.73L315.97,146.15L311.40,142.57L317.20,142.35Z" fill="#f59a23"/>
<path d="M299.00,165.60L301.00,171.05L306.80,171.27L302.23,174.85L303.82,180.43L299.00,177.20L294.18,180.43L295.77,174.85L291.20,171.27L297.00,171.05Z" fill="#f59a23"/>
<path d="M361.20,154.60L363.20,160.05L369.00,160.27L364.43,163.85L366.02,169.43L361.20,166.20L356.38,169.43L357.97,163.85L353.40,160.27L359.20,160.05Z" fill="#f59a23"/>
<path d="M526.20,118.60L528.20,124.05L534.00,124.27L529.43,127.85L531.02,133.43L526.20,130.20L521.38,133.43L522.97,127.85L518.40,124.27L524.20,124.05Z" fill="#f59a23"/>
</g>
<path d="M64.5,169.6H596.8" stroke="#000" stroke-width="1.55" stroke-linecap="round" stroke-dasharray="0.01 4.76" fill="none"/>
<path d="M80.64,379.15v-3.6M80.64,0.45v3.6M107.54,379.15v-3.6M107.54,0.45v3.6M128.40,379.15v-3.6M128.40,0.45v3.6M145.44,379.15v-3.6M145.44,0.45v3.6M159.85,379.15v-3.6M159.85,0.45v3.6M172.33,379.15v-3.6M172.33,0.45v3.6M183.34,379.15v-3.6M183.34,0.45v3.6M193.19,379.15v-7.5M193.19,0.45v7.5M257.99,379.15v-3.6M257.99,0.45v3.6M295.89,379.15v-3.6M295.89,0.45v3.6M322.79,379.15v-3.6M322.79,0.45v3.6M343.65,379.15v-3.6M343.65,0.45v3.6M360.69,379.15v-3.6M360.69,0.45v3.6M375.10,379.15v-3.6M375.10,0.45v3.6M387.58,379.15v-3.6M387.58,0.45v3.6M398.59,379.15v-3.6M398.59,0.45v3.6M408.44,379.15v-7.5M408.44,0.45v7.5M473.24,379.15v-3.6M473.24,0.45v3.6M511.14,379.15v-3.6M511.14,0.45v3.6M538.04,379.15v-3.6M538.04,0.45v3.6M558.90,379.15v-3.6M558.90,0.45v3.6M575.94,379.15v-3.6M575.94,0.45v3.6M590.35,379.15v-3.6M590.35,0.45v3.6M63.6,34.74h10.5M596.8,34.74h-10.5M63.6,69.18h5.4M596.8,69.18h-5.4M63.6,103.62h10.5M596.8,103.62h-10.5M63.6,138.06h5.4M596.8,138.06h-5.4M63.6,172.50h10.5M596.8,172.50h-10.5M63.6,206.95h5.4M596.8,206.95h-5.4M63.6,241.39h10.5M596.8,241.39h-10.5M63.6,275.83h5.4M596.8,275.83h-5.4M63.6,310.27h10.5M596.8,310.27h-10.5M63.6,344.71h5.4M596.8,344.71h-5.4" stroke="#000" stroke-width="1.2" fill="none"/>
<rect x="63.6" y="0.45" width="533.1999999999999" height="378.7" fill="none" stroke="#000" stroke-width="1.3"/>
<text x="59.8" y="40.2" text-anchor="end" font-size="15">10<tspan font-size="8.8" dy="-6.9">0</tspan></text>
<text x="59.8" y="109.1" text-anchor="end" font-size="15">10<tspan font-size="8.8" dy="-6.9">−2</tspan></text>
<text x="59.8" y="178.0" text-anchor="end" font-size="15">10<tspan font-size="8.8" dy="-6.9">−4</tspan></text>
<text x="59.8" y="246.9" text-anchor="end" font-size="15">10<tspan font-size="8.8" dy="-6.9">−6</tspan></text>
<text x="59.8" y="315.8" text-anchor="end" font-size="15">10<tspan font-size="8.8" dy="-6.9">−8</tspan></text>
<text x="59.8" y="378.6" text-anchor="end" font-size="15">10<tspan font-size="8.8" dy="-6.9">−10</tspan></text>
<text x="193.2" y="398.4" text-anchor="middle" font-size="14.8">1</text>
<text x="409.6" y="398.4" text-anchor="middle" font-size="14.8">10</text>
<text x="186.3" y="413.8" font-size="15.25">GBM Flux 20–2000 KeV (photons cm<tspan font-size="9" dy="-5.6">−2</tspan><tspan dy="5.6"> s</tspan><tspan font-size="9" dy="-5.6">−1</tspan><tspan dy="5.6">)</tspan></text>
<text transform="translate(13.9,360.3) rotate(-90)" font-size="15.25">Expected LAT Flux 0.1–10 GeV (photons cm<tspan font-size="9" dy="-5.6">−2</tspan><tspan dy="5.6"> s</tspan><tspan font-size="9" dy="-5.6">−1</tspan><tspan dy="5.6">)</tspan></text>
<text x="563.6" y="21.5" text-anchor="end" font-size="15.15">First GBM Spectral Catalog</text><text x="563.6" y="36.6" text-anchor="end" font-size="15.15">Spectroscopic Sample – GBM Fits</text><text x="563.6" y="51.5" text-anchor="end" font-size="15.15">Spectroscopic Sample – GBM+LAT Fits</text><text x="563.6" y="66.1" text-anchor="end" font-size="15.15">LAT Detected GRBs</text><path d="M573.2,13.3l3.8,3.8l-3.8,3.8l-3.8,-3.8z" fill="#0a1f96"/><path d="M569.3000000000001,35.800000000000004L573.2,28.200000000000003L577.1,35.800000000000004z" fill="#4f8f18"/><circle cx="573.2" cy="47.5" r="3.8" fill="#b00d0d"/><path d="M573.20,56.80L574.85,61.43L579.76,61.57L575.86,64.57L577.26,69.28L573.20,66.50L569.14,69.28L570.54,64.57L566.64,61.57L571.55,61.43Z" fill="#f59a23"/>
</svg>
</body></html>
